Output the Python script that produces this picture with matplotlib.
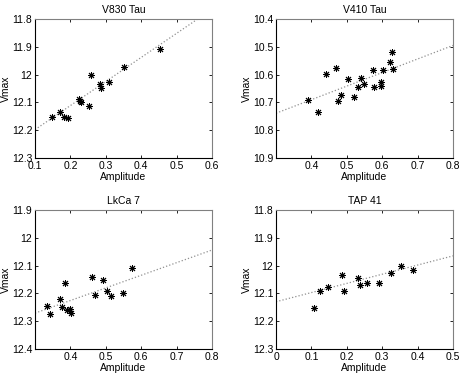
import numpy as np
import matplotlib
matplotlib.use('Agg')
from matplotlib import pyplot as plt

titles = ['V830 Tau', 'V410 Tau', 'LkCa 7', 'TAP 41']

amp_v830 = [0.149, 0.171, 0.183, 0.192, 0.224, 0.226, 0.229, 0.253, 0.258,
            0.285, 0.286, 0.309, 0.351, 0.453]
vmax_v830 = [12.153, 12.135, 12.153, 12.156, 12.088, 12.095, 12.100, 12.112,
             12.001, 12.034, 12.049, 12.028, 11.971, 11.909]

amp_v410 = [0.390, 0.418, 0.442, 0.470, 0.475, 0.483, 0.504, 0.521, 0.532,
            0.540, 0.549, 0.573, 0.577, 0.598, 0.597, 0.602, 0.623, 0.629, 0.631]
vmax_v410 = [10.693, 10.735, 10.598, 10.577, 10.695, 10.673, 10.615, 10.680,
             10.644, 10.612, 10.635, 10.582, 10.643, 10.627, 10.641, 10.582,
             10.555, 10.518, 10.580]

amp_lkca7 = [0.334, 0.343, 0.372, 0.376, 0.385, 0.389, 0.399, 0.403, 0.460,
             0.469, 0.493, 0.503, 0.514, 0.549, 0.573]
vmax_lkca7 = [12.245, 12.274, 12.219, 12.249, 12.162, 12.259, 12.255, 12.270,
              12.142, 12.206, 12.152, 12.191, 12.210, 12.197, 12.107]

amp_tap41 = [0.106, 0.123, 0.148, 0.186, 0.193, 0.231, 0.236, 0.257, 0.290,
             0.324, 0.352, 0.388]
vmax_tap41 = [12.153, 12.093, 12.078, 12.034, 12.091, 12.043, 12.070, 12.063,
              12.063, 12.025, 12.003, 12.015]

# fitted lines (end points)
fit_x = [[0.1, 0.6], [0.3, 0.8], [0.3, 0.8], [0.0, 0.5]]
fit_y = [[12.198, 11.765], [10.739, 10.495], [12.271, 12.044], [12.13, 11.965]]

xlims = [(0.1, 0.6), (0.3, 0.8), (0.3, 0.8), (0.0, 0.5)]
ylims = [(11.8, 12.3), (10.4, 10.9), (11.9, 12.4), (11.8, 12.3)]

amps = [amp_v830, amp_v410, amp_lkca7, amp_tap41]
vmaxs = [vmax_v830, vmax_v410, vmax_lkca7, vmax_tap41]

plt.rcParams['font.family'] = 'Liberation Sans'
plt.rcParams['font.size'] = 7.5

fig = plt.figure(figsize=(4.63, 3.75), dpi=100)
W, H = 463.0, 375.0
boxes = [(35, 19), (276, 19), (35, 210), (276, 210)]

for i in range(4):
    l, t = boxes[i]
    ax = fig.add_axes([l / W, 1 - (t + 139) / H, 177 / W, 139 / H])
    ax.plot(fit_x[i], fit_y[i], linestyle=':', color='#909090', linewidth=0.9)
    ax.plot(amps[i], vmaxs[i], linestyle='none', marker=(8, 2, 0),
            markersize=5, markeredgewidth=0.7, color='k')
    ax.set_xlim(*xlims[i])
    ax.set_ylim(ylims[i][1], ylims[i][0])
    x0, x1 = xlims[i]
    xt = np.round(np.arange(x0, x1 + 0.001, 0.1), 2)
    ax.set_xticks(xt)
    labels = ['%g' % v for v in xt]
    if i in (1, 2):
        labels[0] = ''
    ax.set_xticklabels(labels)
    y0, y1 = ylims[i]
    yt = np.round(np.arange(y0, y1 + 0.001, 0.1), 2)
    ax.set_yticks(yt)
    ax.set_yticklabels(['%g' % v for v in yt])
    ax.tick_params(direction='in', length=2.5, width=0.6, top=True, right=True,
                   pad=2, colors='k', labelsize=7.5)
    for s in ['top', 'right']:
        ax.spines[s].set_color('#808080')
    for s in ['left', 'bottom']:
        ax.spines[s].set_color('k')
    for s in ax.spines.values():
        s.set_linewidth(0.8)
    ax.set_title(titles[i], fontsize=7.5, pad=4)
    ax.set_xlabel('Amplitude', labelpad=1)
    ax.set_ylabel('Vmax', labelpad=0.5)

fig.savefig('out.png', dpi=100)
